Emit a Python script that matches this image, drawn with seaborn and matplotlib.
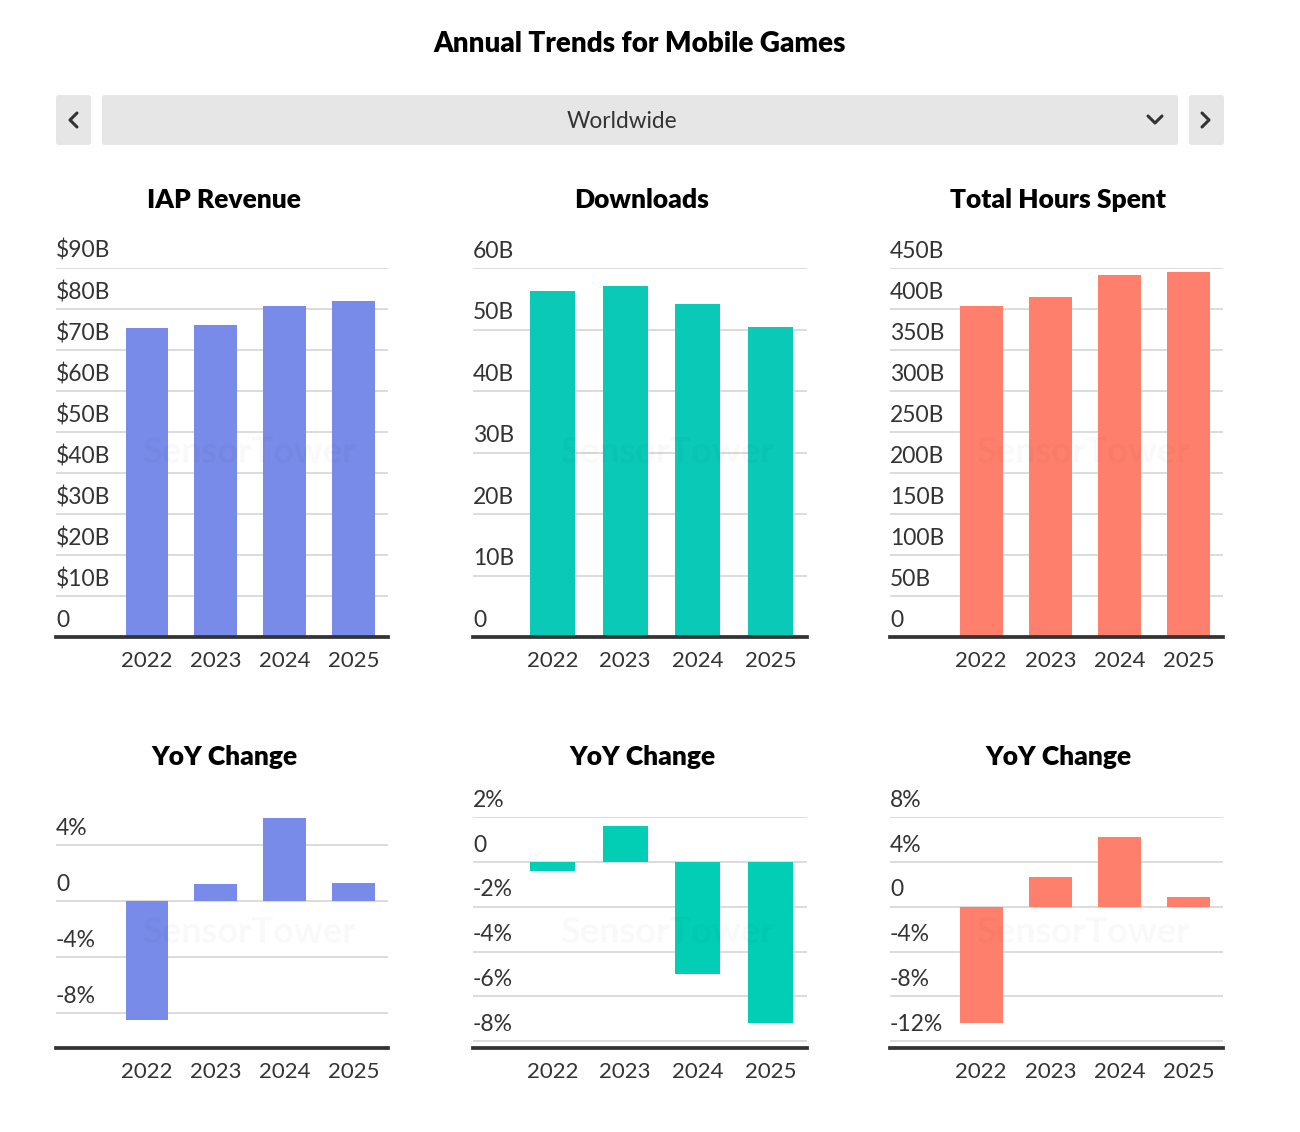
import numpy as np
import pandas as pd
import matplotlib
matplotlib.use('Agg')
import matplotlib.pyplot as plt
import matplotlib.transforms as mtransforms
from matplotlib.patches import FancyBboxPatch
import seaborn as sns

# Data
years = ['2022', '2023', '2024', '2025']
iap_revenue = [75.3, 76.2, 80.8, 81.9]      # $B
downloads = [56.2, 57.1, 54.2, 50.4]        # B
hours_spent = [404, 415, 441, 445]          # B hours
iap_yoy = [-8.5, 1.2, 5.95, 1.3]            # %
downloads_yoy = [-0.4, 1.6, -5.0, -7.2]     # %
hours_yoy = [-10.4, 2.7, 6.2, 0.9]          # %

iap_ticks = list(range(0, 91, 10))
dl_ticks = list(range(0, 61, 10))
hours_ticks = list(range(0, 451, 50))
iap_yoy_ticks = [-8, -4, 0, 4]
dl_yoy_ticks = [-8, -6, -4, -2, 0, 2]
hours_yoy_ticks = [-12, -8, -4, 0, 4, 8]

region = 'Worldwide'
main_title = 'Annual Trends for Mobile Games'
panel_titles = ['IAP Revenue', 'Downloads', 'Total Hours Spent']

c_iap = '#788be9'
c_dl = '#0ac9b6'
c_dl_yoy = '#02ceb6'
c_hours = '#ff7f6d'
text_col = '#333333'

sns.set_style('white')
plt.rcParams['font.family'] = ['Lato', 'DejaVu Sans']

W, H = 1300, 1132
fig = plt.figure(figsize=(W / 100, H / 100), dpi=100)

# background axes in pixel coordinates for header / titles
bg = fig.add_axes([0, 0, 1, 1], zorder=-1)
bg.set_xlim(0, W)
bg.set_ylim(H, 0)
bg.axis('off')

bg.text(640, 44, main_title, ha='center', va='center', fontsize=20,
        fontweight='heavy', color='black')

for x0, x1 in [(56, 91), (102, 1178), (1189, 1224)]:
    bg.add_patch(FancyBboxPatch((x0, 95), x1 - x0, 50,
                                boxstyle='round,pad=0,rounding_size=3',
                                fc='#e6e6e6', ec='none'))
bg.text(622, 121, region, ha='center', va='center', fontsize=16.3, color=text_col)
bg.plot([77, 70, 77], [113, 120, 127], color=text_col, lw=2.2, solid_capstyle='round')
bg.plot([1202, 1209, 1202], [113, 120, 127], color=text_col, lw=2.2, solid_capstyle='round')
bg.plot([1148, 1155, 1162], [116, 123, 116], color=text_col, lw=2.2, solid_capstyle='round')


def fmt_b(v, prefix=''):
    return '0' if v == 0 else f'{prefix}{v}B'


def fmt_pct(v):
    return '0' if v == 0 else f'{v}%'


def draw_panel(x0, x1, y0, y1, values, color, ylim, ticks, labels, xleft):
    ax = fig.add_axes([x0 / W, 1 - y1 / H, (x1 - x0) / W, (y1 - y0) / H])
    sns.barplot(x=years, y=values, color=color, width=0.62, saturation=1,
                linewidth=0, ax=ax, zorder=3)
    ax.set_xlim(xleft, 3.5)
    ax.set_ylim(*ylim)
    ax.set_yticks(ticks)
    ax.set_yticklabels([])
    ax.tick_params(axis='y', length=0)
    ax.grid(axis='y', color='#d9d9d9', lw=1.3)
    ax.set_axisbelow(True)
    for s in ['top', 'right', 'left']:
        ax.spines[s].set_visible(False)
    ax.spines['bottom'].set_color(text_col)
    ax.spines['bottom'].set_linewidth(2.7)
    ax.spines['bottom'].set_zorder(5)
    ax.tick_params(axis='x', length=0, pad=10, labelsize=16, labelcolor=text_col)
    ax.set_xlabel('')
    ax.set_ylabel('')
    trans = mtransforms.offset_copy(ax.get_yaxis_transform(), fig=fig,
                                    x=0, y=17, units='dots')
    for t, lab in zip(ticks, labels):
        ax.text(0, t, lab, transform=trans, ha='left', va='center',
                fontsize=16.5, color=text_col)
    # faint watermark
    ax.text(0.58, 0.5, 'SensorTower', transform=ax.transAxes, ha='center',
            va='center', fontsize=26, fontweight='bold', color='black',
            alpha=0.025, zorder=6)
    return ax


cols = [(56, 388, -1.32), (473, 807, -1.09), (890, 1223, -1.32)]
top_data = [
    (iap_revenue, c_iap, (0, 90), iap_ticks, [fmt_b(v, '$') for v in iap_ticks]),
    (downloads, c_dl, (0, 60), dl_ticks, [fmt_b(v) for v in dl_ticks]),
    (hours_spent, c_hours, (0, 450), hours_ticks, [fmt_b(v) for v in hours_ticks]),
]
bottom_data = [
    (iap_yoy, c_iap, (-10.5, 6.0), iap_yoy_ticks, [fmt_pct(v) for v in iap_yoy_ticks]),
    (downloads_yoy, c_dl_yoy, (-8.31, 2), dl_yoy_ticks, [fmt_pct(v) for v in dl_yoy_ticks]),
    (hours_yoy, c_hours, (-12.6, 8), hours_yoy_ticks, [fmt_pct(v) for v in hours_yoy_ticks]),
]

for (x0, x1, xl), (vals, col, yl, tk, lb), title in zip(cols, top_data, panel_titles):
    draw_panel(x0, x1, 268, 637.3, vals, col, yl, tk, lb, xl)
    bg.text((x0 + x1) / 2 + 2, 200, title, ha='center', va='center',
            fontsize=19, fontweight='heavy', color='black')

for (x0, x1, xl), (vals, col, yl, tk, lb) in zip(cols, bottom_data):
    draw_panel(x0, x1, 817.3, 1048, vals, col, yl, tk, lb, xl)
    bg.text((x0 + x1) / 2 + 2, 757, 'YoY Change', ha='center', va='center',
            fontsize=19, fontweight='heavy', color='black')

fig.savefig('out.png', dpi=100)
